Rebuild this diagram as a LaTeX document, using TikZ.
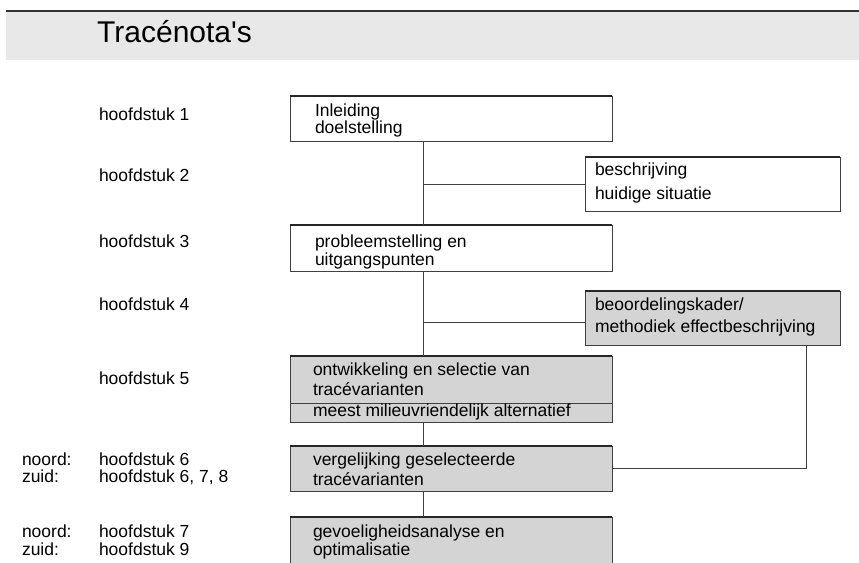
\documentclass[tikz,border=0pt]{standalone}
\usepackage{fontspec}
\setmainfont{Liberation Sans}
\begin{document}
\begin{tikzpicture}[x=1pt,y=-1pt,
  box/.style={draw=black!75, line width=1pt, inner sep=0pt, outer sep=0pt, anchor=north west},
  shadebox/.style={box, fill=black!17},
  lbl/.style={anchor=base west, inner sep=0pt, outer sep=0pt, font=\fontsize{17.5}{17.5}\selectfont, text=black},
  topedge/.style={line width=2.6pt, draw=black!85},
  conn/.style={draw=black!75, line width=1pt}]
\useasboundingbox (0,0) rectangle (859,562);
% title band
\fill[black!9] (6,11) rectangle (859,60);
\draw[line width=2.6pt, black!80] (6,11) -- (859,11);
\node[anchor=base west, inner sep=0pt, font=\fontsize{30}{30}\selectfont, text=black] (title) at (97,42) {Tracénota\textquotesingle s};
% boxes
\node[box, minimum width=322pt, minimum height=45pt] (b1) at (290,96) {};
\node[box, minimum width=255pt, minimum height=54pt] (b2) at (585,157) {};
\node[box, minimum width=322pt, minimum height=46pt] (b3) at (290,225) {};
\node[shadebox, minimum width=255pt, minimum height=54pt] (b4) at (585,291) {};
\node[shadebox, minimum width=322pt, minimum height=66pt] (b5) at (290,356) {};
\node[shadebox, minimum width=322pt, minimum height=45pt] (b6) at (290,446) {};
\node[shadebox, minimum width=322pt, minimum height=50pt] (b7) at (290,517) {};
\foreach \b in {b1,b2,b3,b4,b5,b6,b7}{\draw[topedge] (\b.north west) -- (\b.north east);}
\coordinate (div) at (0,403);
\draw[conn] (b5.west |- div) -- (b5.east |- div);
% connectors
\coordinate (sp) at (423,0);
\coordinate (c4) at ([yshift=-4pt]b4.west);
\coordinate (c46) at ([xshift=-34pt]b4.south east);
\draw[conn] (b1.south -| sp) -- (b3.north -| sp);
\draw[conn] (b3.south -| sp) -- (b5.north -| sp);
\draw[conn] (b5.south -| sp) -- (b6.north -| sp);
\draw[conn] (b6.south -| sp) -- (b7.north -| sp);
\draw[conn] (sp |- b2.west) -- (b2.west);
\draw[conn] (sp |- c4) -- (c4);
\draw[conn] (c46) |- (b6.east);
% box texts
\node[lbl] (t1a) at (315,116) {Inleiding};
\node[lbl] (t1b) at (315,133) {doelstelling};
\node[lbl] (t2a) at (595,175) {beschrijving};
\node[lbl] (t2b) at (595,199) {huidige situatie};
\node[lbl] (t3a) at (315,247) {probleemstelling en};
\node[lbl] (t3b) at (315,265) {uitgangspunten};
\node[lbl] (t4a) at (595,310) {beoordelingskader/};
\node[lbl] (t4b) at (595,332) {methodiek effectbeschrijving};
\node[lbl] (t5a) at (313,375) {ontwikkeling en selectie van};
\node[lbl] (t5b) at (313,395) {tracévarianten};
\node[lbl] (t5c) at (313,416) {meest milieuvriendelijk alternatief};
\node[lbl] (t6a) at (313,465) {vergelijking geselecteerde};
\node[lbl] (t6b) at (313,485) {tracévarianten};
\node[lbl] (t7a) at (313,537) {gevoeligheidsanalyse en};
\node[lbl] (t7b) at (313,555) {optimalisatie};
% left labels
\node[lbl] (h1) at (99,120) {hoofdstuk 1};
\node[lbl] (h2) at (99,181) {hoofdstuk 2};
\node[lbl] (h3) at (99,247) {hoofdstuk 3};
\node[lbl] (h4) at (99,310) {hoofdstuk 4};
\node[lbl] (h5) at (99,384) {hoofdstuk 5};
\node[lbl] (n6) at (22,465) {noord:};
\node[lbl] (h6) at (99,465) {hoofdstuk 6};
\node[lbl] (z6) at (22,482) {zuid:};
\node[lbl] (h678) at (99,482) {hoofdstuk 6, 7, 8};
\node[lbl] (n7) at (22,537) {noord:};
\node[lbl] (h7) at (99,537) {hoofdstuk 7};
\node[lbl] (z9) at (22,555) {zuid:};
\node[lbl] (h9) at (99,555) {hoofdstuk 9};
\end{tikzpicture}
\end{document}
